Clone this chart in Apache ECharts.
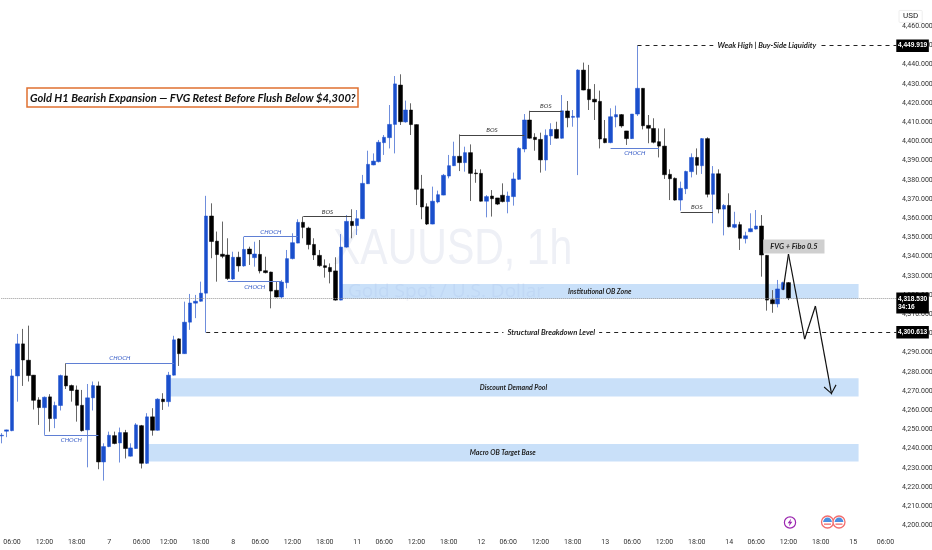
<!DOCTYPE html>
<html><head><meta charset="utf-8">
<style>html,body{margin:0;padding:0;background:#fff}#c{width:932px;height:550px}</style>
<script src="https://cdn.jsdelivr.net/npm/echarts@6/dist/echarts.min.js"></script>
</head><body><div id="c"></div>
<script>
const opens=[4246.7,4249.1,4249.4,4277.9,4294.6,4286.1,4278.3,4265.4,4261.4,4267,
4255.7,4262.5,4277.9,4272.9,4270.6,4262.6,4249.8,4266.5,4272.7,4233.1,
4241.1,4246.8,4243,4248.4,4236.1,4240.1,4252,4232.4,4256.6,4249.6,
4265.8,4264.5,4278.3,4297.2,4289.5,4305.9,4315.8,4316.8,4321,4361.2,
4348.1,4341.3,4340.9,4328.4,4339.7,4335.2,4344,4339.5,4341.2,4332.7,
4332,4322.5,4319,4326.5,4339,4347.1,4357.9,4354.9,4346.4,4340.7,
4335.3,4334.4,4332.6,4317.4,4345,4358.4,4356.2,4359.8,4378,4387.8,
4389.5,4399.4,4402,4408.9,4429.4,4410.2,4416.4,4408.8,4375.3,4366,
4357,4368.5,4372.1,4382,4387.4,4392.3,4389,4394.2,4383.6,4383.4,
4368.9,4371.6,4370.6,4372,4368.7,4371.3,4380.3,4396.1,4411.2,4402.2,
4401.1,4390.4,4402.9,4406.3,4401.7,4415.9,4412.6,4412.6,4437.2,4427.2,
4422,4420.9,4401.5,4399.4,4412.8,4414,4405.5,4401.5,4414.3,4427.7,
4408.4,4406.8,4399.9,4397.6,4382.9,4380.8,4369.5,4375.4,4384.3,4391.7,
4387.4,4401.5,4372.5,4383.2,4364.8,4366.7,4355.3,4356.7,4349.4,4353,
4354.4,4356,4340.7,4317.6,4315.4,4323,4326.5];
const closes=[4247,4249.8,4277.9,4294.6,4286.2,4278.1,4265.2,4261.4,4266.8,4255.7,
4262.5,4278.1,4272.7,4270.3,4262.6,4249.4,4266.5,4272.9,4233.1,4241.1,
4247,4242.7,4248.4,4240.1,4240.4,4252.4,4232.4,4256.6,4249.6,4265.8,
4264.5,4278.3,4296.7,4289.5,4305.9,4315.9,4316.8,4321,4361.2,4347.9,
4341.1,4340.2,4328.6,4339.7,4335.2,4343.8,4341.4,4341.4,4332.6,4331.7,
4322.1,4319,4326.8,4339,4347.3,4357.9,4355.3,4346.3,4340.9,4335.3,
4334.4,4332.2,4317.4,4345,4358.4,4356.2,4359.8,4378.2,4388.1,4389.8,
4399.6,4402.2,4408.9,4430,4410.3,4416.4,4408.8,4375.1,4365.9,4357,
4368.9,4372.3,4382.4,4387.4,4392.3,4389,4394.2,4383.4,4383.2,4368.9,
4371.3,4370.2,4367.4,4368.7,4371.6,4380.5,4396.4,4411.2,4401.7,4401,
4390.4,4403.2,4406.3,4401.7,4416,4412.4,4413.1,4437.2,4426.8,4421.8,
4420.6,4401.3,4399.4,4412.9,4414,4408.1,4401.5,4414.3,4427.7,4408.2,
4406.9,4399.6,4397.6,4382.7,4380.6,4369.5,4375.6,4384.4,4391.7,4387.6,
4401.5,4372.5,4383.2,4364.8,4366.7,4355.6,4356.8,4349.6,4350.9,4354.6,
4356,4340.9,4317.4,4315.5,4323.2,4326.5,4318.53];
const lows=[4242.8,4246,4249.1,4264.5,4272.7,4275,4260.4,4252.4,4247.2,4248.9,
4250.7,4259.9,4271.1,4264.5,4254.1,4248.9,4230.3,4259.9,4229.3,4223.4,
4240.8,4242.3,4232.8,4234.9,4235.9,4239.9,4229.7,4232.1,4246.8,4249.4,
4260.2,4261.9,4278.1,4283.1,4289.4,4301.9,4308,4316.6,4300.5,4339.2,
4327,4339.2,4327.9,4327.9,4332.2,4334.8,4335.7,4334.8,4331.3,4331.3,
4313.1,4318.8,4318.3,4323.5,4338.6,4347,4349.6,4343.8,4338.3,4334.8,
4329.1,4326.1,4317.1,4317.3,4344.7,4349.6,4351.3,4359.6,4377.9,4387.6,
4389.1,4393,4396.4,4393.8,4408.6,4409.8,4403.4,4366.9,4359.5,4356.5,
4356.9,4367.8,4372,4380.8,4387.2,4384.6,4384.3,4369,4378.5,4368.7,
4360.5,4360.9,4366.9,4368.3,4362.6,4366.6,4380.1,4394.4,4401.5,4395.2,
4383.8,4384.8,4398.2,4401.5,4401.5,4407.4,4407.7,4382.5,4426.7,4416.4,
4411.2,4396.4,4399.1,4399.1,4407.4,4407.2,4398.2,4401.3,4413.3,4406.3,
4399.1,4399,4391.7,4380.5,4369.5,4369.2,4364,4372.6,4381.3,4382.7,
4383.1,4370.9,4357.4,4362.6,4351.1,4355.3,4354.8,4343.5,4346.9,4352.8,
4354.2,4329.6,4311.9,4310.8,4313.6,4322.6,4317.4];
const highs=[4248.1,4249.9,4281.4,4299.8,4302.4,4304.1,4278.4,4266.8,4267.2,4268.4,
4264.5,4278.6,4284.5,4273.4,4272.9,4270.6,4273.7,4275,4275,4242.8,
4248.9,4248.9,4251,4249.8,4242.8,4253.3,4252.4,4258.5,4261.1,4266.3,
4268.9,4280,4298.8,4297.5,4316.6,4320.6,4320.1,4327,4371.7,4367.8,
4353.1,4358.3,4349.6,4342.6,4342.6,4350.4,4345.2,4347.8,4348.7,4340,
4332.2,4327,4327.9,4343.5,4352.2,4359.5,4360.9,4355.6,4349.6,4343.5,
4338.6,4336.5,4339.7,4351.8,4361.7,4364.7,4364.3,4382.6,4395.2,4393.8,
4400.8,4403.4,4419,4434.1,4435,4421.3,4419.9,4408.9,4382.6,4367.8,
4376.5,4374.4,4383.1,4393,4399.9,4403.7,4397.3,4398.5,4385.5,4385.5,
4372.1,4374.7,4370.6,4378.2,4373.9,4383.8,4397,4414.3,4416,4404.3,
4404.6,4406.3,4409.5,4410.3,4424.2,4421.1,4416.4,4437.6,4441.1,4439.9,
4429.9,4426.5,4411.2,4417.3,4418.7,4414.3,4405.5,4414.3,4449.919,4427.7,
4413.8,4412.1,4406.8,4406.8,4385.5,4381.3,4379.1,4384.8,4393.8,4396.4,
4401.8,4402.2,4387.2,4385.5,4367.4,4373,4363.4,4358.2,4353,4362.6,
4364.3,4361.7,4340.9,4322.6,4327.9,4327,4326.8];

const barCount=167;
const tickBars=[2,8,14,20,26,31,37,43,48,54,60,66,71,77,83,89,94,100,106,112,117,123,129,135,140,146,152,158,164];
const tickLabels=['06:00','12:00','18:00','7','06:00','12:00','18:00','8','06:00','12:00','18:00','11','06:00','12:00','18:00','12','06:00','12:00','18:00','13','06:00','12:00','18:00','14','06:00','12:00','18:00','15','06:00'];

const zoneNames=['Institutional OB Zone','Discount Demand Pool','Macro OB Target Base'];
const zoneStart=[63,31,27];
const zoneEnd=[159,159,159];
const zoneTop=[4325.8,4276.7,4242.5];
const zoneBottom=[4318.1,4267.2,4233.3];

const structNames=['CHOCH','CHOCH','CHOCH','CHOCH','BOS','BOS','BOS','CHOCH','BOS'];
const structStart=[12,8,45,42,56,85,98,113,126];
const structEnd=[32,18,55,52,65,97,104,122,132];
const structPrice=[4284.5,4247.1,4350.4,4327,4360.9,4403.5,4416,4396.7,4363.4];
const structSide=['top','bottom','top','bottom','top','top','top','bottom','top'];

const weakHigh=4449.919, breakdown=4300.613, lastPrice=4318.53;
const weakHighStart=118, breakdownStart=38, lineEnd=166;
const pathBars=[145,146,149,151,154];
const pathPrices=[4322.6,4341.4,4297.1,4314.3,4268.3];

const BLUE='#1a4fcc', BLACK='#000', FONT='Lato, "Open Sans", sans-serif';
const V='path://M0,0 L6,8 L5.2,8.8 L0,1.6 L-5.2,8.8 L-6,8 Z M0,-9 L0,-9 Z';
const fmt=v=>v.toLocaleString('en-US',{minimumFractionDigits:3,maximumFractionDigits:3});
const tag=(p,text,extra)=>[{coord:[lineEnd-1,p],lineStyle:{opacity:0},label:Object.assign({show:true,opacity:1,position:'end',distance:0,formatter:text,backgroundColor:'#000',color:'#fff',fontFamily:'"Liberation Sans"',fontSize:6.6,fontWeight:'bold',padding:[2,1.6],lineHeight:8.5},extra||{})},{coord:[lineEnd,p]}];

const chart=echarts.init(document.getElementById('c'),null,{renderer:'canvas'});
chart.setOption({
 animation:false,backgroundColor:'#fff',
 title:{text:'Gold H1 Bearish Expansion — FVG Retest Before Flush Below $4,300?',left:27,top:88,padding:[4,3,3,3],
  borderColor:'#e07030',borderWidth:1.5,backgroundColor:'#fff',
  textStyle:{fontFamily:FONT,fontStyle:'italic',fontWeight:'bold',fontSize:11.1,color:'#111',lineHeight:12}},
 grid:{left:-1.4,width:900.4,top:26.3,height:499.2,containLabel:false,outerBoundsMode:'none'},
 xAxis:{type:'category',data:Array.from({length:barCount},(_,i)=>'b'+i),boundaryGap:true,
  axisLine:{show:false},axisTick:{show:false},splitLine:{show:false},
  axisLabel:{interval:(i)=>tickBars.includes(i),formatter:(v,i)=>tickLabels[tickBars.indexOf(i)]||'',margin:13,fontSize:7,fontFamily:'Roboto',color:'#333',hideOverlap:false}},
 yAxis:{type:'value',position:'right',min:4200,max:4460,interval:10,scale:true,
  name:'USD',nameLocation:'end',nameGap:9,
  nameTextStyle:{align:'left',verticalAlign:'middle',fontFamily:'Roboto',fontSize:8,color:'#222',padding:[2,4,2,4],borderColor:'#eee',borderWidth:1,borderRadius:1},
  axisLine:{show:false},axisTick:{show:false},splitLine:{show:false},
  axisLabel:{margin:3,fontSize:7,fontFamily:'Roboto',color:'#333',formatter:fmt}},
 graphic:[
  {type:'text',z:-1,x:333,y:225,scaleX:0.82,style:{text:'XAUUSD, 1h',fontFamily:'"Liberation Sans"',fontSize:50,fill:'#eef0f6'}},
  {type:'text',z:-1,x:348,y:282,style:{text:'Gold Spot / U.S. Dollar',fontFamily:'"Open Sans"',fontSize:19,fill:'#f4f5fa'}},
  {type:'group',x:784,y:516.5,children:[
   {type:'circle',shape:{cx:6,cy:6,r:5.6},style:{fill:'#fff',stroke:'#9c27b0',lineWidth:1.2}},
   {type:'polygon',shape:{points:[[7.2,2],[3.6,6.8],[5.7,6.8],[4.8,10],[8.4,5.2],[6.3,5.2]]},style:{fill:'#9c27b0'}}]},
  ...[821,832.5].map(x=>({type:'group',x:x,y:515.5,children:[
   {type:'circle',shape:{cx:6.5,cy:6.5,r:6},style:{fill:'#fff',stroke:'#f26d6d',lineWidth:1.3}},
   {type:'sector',shape:{cx:6.5,cy:6.5,r:4.4,r0:0,startAngle:Math.PI,endAngle:Math.PI*2},style:{fill:'#4a8fe0'}},
   {type:'rect',shape:{x:3,y:8,width:7,height:1.3},style:{fill:'#f26d6d'}}]}))
 ],
 series:[
  {name:'zones',type:'line',data:[],z:1,silent:true,symbol:'none',
   markArea:{silent:true,itemStyle:{color:'rgba(40,130,230,0.25)'},
    label:{show:true,position:'inside',fontFamily:FONT,fontStyle:'italic',fontWeight:'bold',fontSize:7,color:'#222'},
    data:zoneNames.map((n,k)=>[{name:n,coord:[zoneStart[k],zoneTop[k]]},{coord:[zoneEnd[k],zoneBottom[k]]}])}},
  {name:'wicks',type:'candlestick',z:3,barWidth:1,silent:true,
   data:opens.map((o,i)=>[o,closes[i],lows[i],highs[i]]),
   itemStyle:{color:'#6f8edc',color0:'#666',borderColor:'#6f8edc',borderColor0:'#666',borderWidth:1}},
  {name:'bodies',type:'candlestick',z:4,barWidth:4,barGap:'-100%',silent:true,
   data:opens.map((o,i)=>[o,closes[i],Math.min(o,closes[i]),Math.max(o,closes[i])]),
   itemStyle:{color:BLUE,color0:BLACK,borderColor:BLUE,borderColor0:BLACK,borderWidth:0.5}},
  {name:'structure',type:'line',data:[],z:5,silent:true,
   markLine:{silent:true,symbol:'none',animation:false,
    data:structNames.map((n,k)=>{const c=n==='BOS'?'#444':'#5f7fd4',tc=n==='BOS'?'#333':'#3a5fc8';
     return [{coord:[structStart[k],structPrice[k]],lineStyle:{color:c,width:1,type:'solid'},
      label:{show:true,formatter:n,position:structSide[k]==='top'?'insideMiddleTop':'insideMiddleBottom',distance:2,fontFamily:FONT,fontStyle:'italic',fontSize:6.2,color:tc}},
      {coord:[structEnd[k],structPrice[k]]}];})}},
  {name:'levels',type:'line',data:[],z:6,silent:true,
   markLine:{silent:true,symbol:'none',animation:false,
    data:[
     [{coord:[0,lastPrice],lineStyle:{color:'#999',width:1,type:[1,1]},label:{show:false}},{coord:[lineEnd,lastPrice]}],
     [{coord:[weakHighStart,weakHigh],lineStyle:{color:'#222',width:1,type:[4,4]},label:{show:true,position:'insideMiddle',formatter:'Weak High | Buy-Side Liquidity',backgroundColor:'#fff',padding:[1,4],fontFamily:FONT,fontStyle:'italic',fontWeight:'bold',fontSize:7.6,color:'#222'}},{coord:[lineEnd,weakHigh]}],
     [{coord:[breakdownStart,breakdown],lineStyle:{color:'#222',width:1,type:[4,4]},label:{show:true,position:'insideMiddle',formatter:'Structural Breakdown Level',backgroundColor:'#fff',padding:[1,4],fontFamily:FONT,fontStyle:'italic',fontWeight:'bold',fontSize:7.6,color:'#222'}},{coord:[lineEnd,breakdown]}],
     tag(weakHigh,fmt(weakHigh)),tag(breakdown,fmt(breakdown)),
     tag(lastPrice,fmt(lastPrice)+'\n34:16',{offset:[0,5]})
    ]}},
  {name:'path',type:'line',data:[],z:7,silent:true,
   markLine:{silent:true,symbol:'none',animation:false,lineStyle:{color:'#111',width:1.2,type:'solid'},
    label:{show:false},
    data:pathBars.slice(1).map((b,k)=>[{coord:[pathBars[k],pathPrices[k]]},
      {coord:[b,pathPrices[k+1]],symbol:k===pathBars.length-2?V:'none',symbolSize:[13,18]}])},
   markPoint:{silent:true,symbol:'circle',symbolSize:0,
    data:[{coord:[147,4345.3],value:'FVG + Fibo 0.5',label:{show:true,position:'inside',formatter:'FVG + Fibo 0.5',backgroundColor:'#cfcfcf',padding:[3,7],fontFamily:FONT,fontStyle:'italic',fontWeight:'bold',fontSize:7.5,color:'#222'}}]}}
 ]
});
</script></body></html>
